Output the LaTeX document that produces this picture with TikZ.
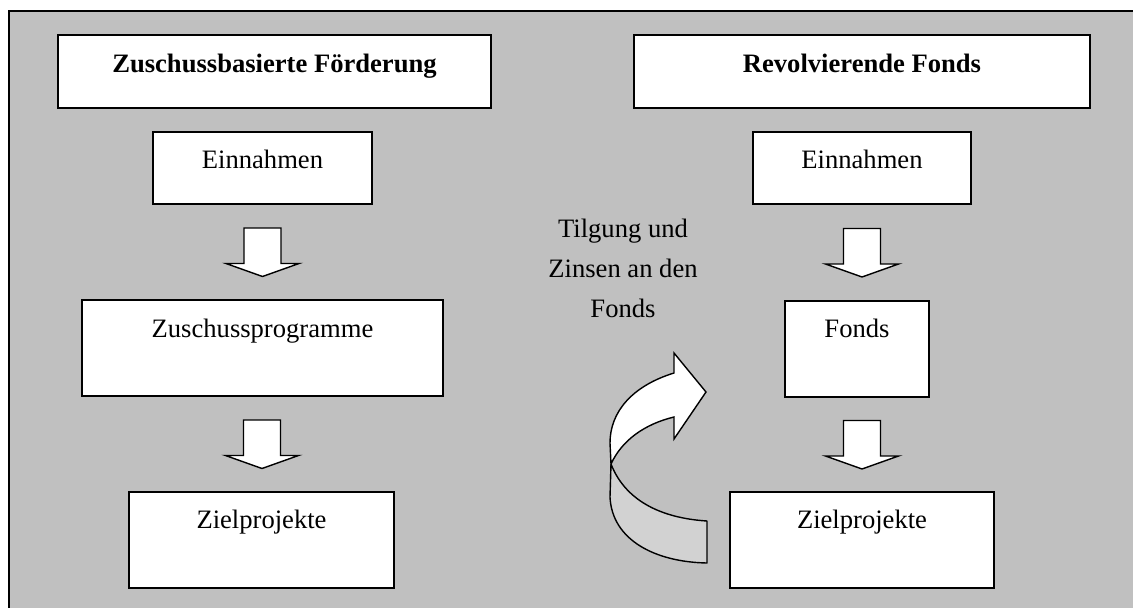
\documentclass[tikz,border=0pt]{standalone}
\usepackage{fontspec}
\setmainfont{Liberation Serif}
\usetikzlibrary{calc}
\definecolor{bg}{RGB}{192,192,192}
\definecolor{band}{RGB}{210,210,210}
\begin{document}
\begin{tikzpicture}[x=1pt,y=-1pt,
  txt/.style={font=\fontsize{26.6}{40}\selectfont},
  box/.style={txt, draw=black, fill=white, line width=1.7, inner xsep=0, inner ysep=0,
              outer sep=0, anchor=north, text height=36},
  arrowline/.style={draw=black, fill=white, line width=1.4, line join=miter},
  downarrow/.pic={\path[arrowline] (-18.5,-24) -- (18.5,-24) -- (18.5,11.5) -- (36.5,11.5)
      -- (0,24.5) -- (-36.5,11.5) -- (-18.5,11.5) -- cycle;}]
\useasboundingbox (0,0) rectangle (1133,608);
\clip (0,0) rectangle (1133,608);
% frame
\fill[bg] (9,11) rectangle (1150,630);
\draw[line width=2] (9,630) -- (9,11) -- (1150,11);
% boxes
\node[box, font=\fontsize{26.6}{40}\selectfont\bfseries, minimum width=433, text height=37, text depth=36] (t1) at (274.5,35) {Zuschussbasierte Förderung};
\node[box, font=\fontsize{26.6}{40}\selectfont\bfseries, minimum width=456, text height=37, text depth=36] (t2) at (862,35) {Revolvierende Fonds};
\node[box, minimum width=219, text depth=36] (e1) at (262.5,132) {Einnahmen};
\node[box, minimum width=218, text depth=36] (e2) at (862,132) {Einnahmen};
\node[box, minimum width=361, text height=37, text depth=59] (z1) at (262.5,300) {Zuschussprogramme};
\node[box, minimum width=144, text depth=60] (f) at (857,301) {Fonds};
\node[box, minimum width=265, text depth=60] (p1) at (261.5,492) {Zielprojekte};
\node[box, minimum width=264, text depth=60] (p2) at (862,492) {Zielprojekte};
% block arrows
\pic at ($(e1.south)!0.5!(z1.north)$) {downarrow};
\pic at ($(z1.south)!0.5!(p1.north)$) {downarrow};
\pic at ($(e2.south)!0.5!(e2.south |- f.north)$) {downarrow};
\pic at ($(e2.south |- f.south)!0.5!(e2.south |- p2.north)$) {downarrow};
% label
\node[txt, anchor=north, align=center, inner sep=0] (lab) at (623,219) {Tilgung und\\Zinsen an den\\Fonds};
% curved ribbon arrow
\path[draw=black, fill=band, line width=1.4, line join=round]
  (611,464) -- (610,497) .. controls (612,540) and (655,562) .. (707,563)
  -- (707,521) .. controls (660,518) and (625,500) .. (611,464) -- cycle;
\path[draw=black, fill=white, line width=1.4, line join=miter]
  (674,373) .. controls (632,386) and (610,412) .. (610,443)
  -- (611,464) .. controls (622,440) and (645,424) .. (674,417)
  -- (674,439) -- (706,392) -- (674,353) -- cycle;
\end{tikzpicture}
\end{document}
